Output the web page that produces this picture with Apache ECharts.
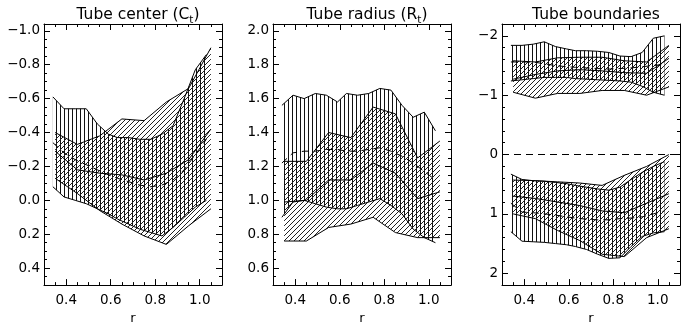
<!DOCTYPE html>
<html><head><meta charset="utf-8">
<script src="https://cdn.jsdelivr.net/npm/echarts@6/dist/echarts.min.js"></script>
<style>html,body{margin:0;padding:0;background:#fff}#c{width:681px;height:330px}</style>
</head><body><div id="c"></div>
<script>
// ---------- data ----------
const rA = [0.34,0.39,0.44,0.49,0.54,0.59,0.63,0.68,0.73,0.78,0.83,0.88,0.93,0.98,1.03];
const rB = [0.35,0.45,0.55,0.65,0.75,0.85,0.95,1.05];

// Panel 1 : Tube center
const p1A_top = [-0.61,-0.54,-0.54,-0.54,-0.45,-0.39,-0.37,-0.37,-0.36,-0.36,-0.39,-0.44,-0.60,-0.77,-0.86];
const p1A_bot = [-0.08,-0.02,0.00,0.02,0.05,0.08,0.11,0.14,0.17,0.19,0.21,0.16,0.10,0.04,0.00];
const p1A_med = [-0.34,-0.28,-0.24,-0.21,-0.18,-0.15,-0.13,-0.11,-0.09,-0.08,-0.09,-0.12,-0.18,-0.27,-0.36];
const p1B_top = [-0.40,-0.33,-0.38,-0.48,-0.47,-0.58,-0.66,-0.90];
const p1B_bot = [-0.13,-0.04,0.06,0.14,0.21,0.26,0.15,0.05];
const p1B_med = [-0.29,-0.18,-0.16,-0.15,-0.12,-0.16,-0.24,-0.42];

// Panel 2 : Tube radius
const p2A_top = [1.56,1.62,1.60,1.63,1.62,1.58,1.63,1.62,1.63,1.66,1.65,1.56,1.49,1.52,1.41];
const p2A_bot = [0.90,0.99,1.00,0.98,0.96,0.95,0.95,0.97,0.99,1.01,0.97,0.92,0.83,0.78,0.75];
const p2A_med = [1.22,1.28,1.29,1.29,1.30,1.30,1.29,1.29,1.30,1.31,1.29,1.26,1.22,1.17,1.12];
const p2B_top = [1.23,1.23,1.40,1.37,1.55,1.51,1.25,1.35];
const p2B_bot = [0.76,0.76,0.84,0.86,0.90,0.81,0.78,0.78];
const p2B_med = [0.99,1.00,1.12,1.12,1.22,1.16,1.01,1.05];

// Panel 3 : Tube boundaries (outer group)
const p3uA_top = [-1.84,-1.84,-1.86,-1.90,-1.82,-1.78,-1.75,-1.75,-1.74,-1.72,-1.66,-1.65,-1.72,-1.96,-2.00];
const p3uA_bot = [-1.24,-1.26,-1.28,-1.30,-1.30,-1.30,-1.28,-1.27,-1.26,-1.25,-1.24,-1.22,-1.15,-1.05,-1.00];
const p3uA_med = [-1.56,-1.56,-1.56,-1.53,-1.50,-1.48,-1.47,-1.46,-1.45,-1.44,-1.45,-1.46,-1.48,-1.50,-1.52];
const p3uB_top = [-1.58,-1.56,-1.63,-1.64,-1.64,-1.58,-1.56,-1.84];
const p3uB_bot = [-1.05,-0.95,-1.03,-1.03,-1.08,-1.08,-1.00,-1.14];
const p3uB_med = [-1.27,-1.35,-1.41,-1.43,-1.41,-1.38,-1.37,-1.62];
// Panel 3 : Tube boundaries (inner group)
const p3lA_top = [0.33,0.42,0.44,0.45,0.47,0.49,0.52,0.55,0.58,0.60,0.55,0.42,0.30,0.20,0.12];
const p3lA_bot = [1.30,1.46,1.47,1.48,1.50,1.52,1.55,1.60,1.68,1.75,1.74,1.55,1.38,1.32,1.30];
const p3lA_med = [0.82,0.97,0.98,1.00,1.02,1.05,1.07,1.09,1.10,1.10,1.08,1.07,1.05,1.00,0.95];
const p3lB_top = [0.43,0.44,0.46,0.48,0.52,0.35,0.20,0.00];
const p3lB_bot = [1.00,1.08,1.28,1.45,1.68,1.72,1.40,1.25];
const p3lB_med = [0.70,0.74,0.80,0.86,0.95,0.98,0.82,0.66];

// ticks
const xTicks = [0.4,0.6,0.8,1.0];
const y1Ticks = [-1.0,-0.8,-0.6,-0.4,-0.2,0.0,0.2,0.4];
const y2Ticks = [0.6,0.8,1.0,1.2,1.4,1.6,1.8,2.0];
const y3Ticks = [-2,-1,0,1,2];
const titles = ['Tube center (C{s|t})','Tube radius (R{s|t})','Tube boundaries'];

// ---------- layout / style ----------
const FONT = 'DejaVu Sans';
const LEFTS = [44,273,502], TOP = 24, W = 178, H = 268;
const XMIN = 0.3, XMAX = 1.1;
const yCfg = [
  {min:-1.04, max:0.5, inverse:true, major:y1Ticks, step:0.05, per:4, dec:1},
  {min:0.5, max:2.04, inverse:false, major:y2Ticks, step:0.05, per:4, dec:1},
  {min:-2.2, max:2.2, inverse:true, major:y3Ticks, step:0.2, per:5, dec:0}
];
function minorList(min,max,step,per){
  const out=[]; const k0=Math.ceil(min/step-1e-9), k1=Math.floor(max/step+1e-9);
  for(let k=k0;k<=k1;k++){ if(k%per===0) continue; out.push(+(k*step).toFixed(4)); }
  return out;
}
const xMinor = minorList(XMIN,XMAX,0.05,4);
function fmt(v,d){ return (v<0?'\u2212':'')+Math.abs(v).toFixed(d); }

function patternCanvas(kind){
  const c=document.createElement('canvas');
  if(kind==='v'){ c.width=4;c.height=4; const g=c.getContext('2d'); g.fillStyle='#111'; g.fillRect(0,0,1,4); }
  else { c.width=5;c.height=5; const g=c.getContext('2d'); g.fillStyle='#222'; for(let i=0;i<5;i++) g.fillRect(i,4-i,1,1); }
  return c;
}
const PV = {image: patternCanvas('v'), repeat:'repeat'};
const PD = {image: patternCanvas('d'), repeat:'repeat'};

const grid=[], xAxis=[], yAxis=[], series=[], title=[];
for(let g=0; g<3; g++){
  grid.push({left:LEFTS[g], top:TOP, width:W, height:H, containLabel:false});
  const yc=yCfg[g];
  const yMinor=minorList(yc.min,yc.max,yc.step,yc.per);
  const tickStyle={color:'#000',width:1};
  [['bottom',false],['bottom',true],['top',false],['top',true]].forEach(([pos,minor],k)=>{
    const main = (k===0);
    xAxis.push({gridIndex:g, type:'value', position:pos, min:XMIN, max:XMAX,
      axisLine:{show:!minor, onZero:false, lineStyle:{color:'#000',width:1}},
      axisTick:{show:true, inside:true, length:minor?3:6, customValues:minor?xMinor:xTicks, lineStyle:tickStyle},
      axisLabel:{show:main, customValues:xTicks, formatter:v=>fmt(v,1), color:'#000', fontFamily:FONT, fontSize:13.5, margin:8},
      splitLine:{show:false}, minorTick:{show:false},
      name: main?'r':'', nameLocation:'middle', nameGap:23,
      nameTextStyle:{color:'#000', fontFamily:FONT, fontSize:13}
    });
  });
  [['left',false],['left',true],['right',false],['right',true]].forEach(([pos,minor],k)=>{
    const main=(k===0);
    yAxis.push({gridIndex:g, type:'value', position:pos, min:yc.min, max:yc.max, inverse:yc.inverse,
      axisLine:{show:!minor, onZero:false, lineStyle:{color:'#000',width:1}},
      axisTick:{show:true, inside:true, length:minor?3:6, customValues:minor?yMinor:yc.major, lineStyle:tickStyle},
      axisLabel:{show:main, customValues:yc.major, formatter:v=>fmt(v,yc.dec), color:'#000', fontFamily:FONT, fontSize:13.5, margin:4},
      splitLine:{show:false}, minorTick:{show:false}
    });
  });
  title.push({text:titles[g], left:LEFTS[g]+W/2, top:-1, textAlign:'center',
    textStyle:{color:'#000', fontFamily:FONT, fontSize:15.5, fontWeight:'normal', lineHeight:22,
      rich:{s:{fontSize:10.5, fontFamily:FONT, color:'#000', verticalAlign:'bottom', lineHeight:10}}}});
}

function band(g, r, top, bot, pat){
  return {type:'custom', xAxisIndex:g*4, yAxisIndex:g*4, coordinateSystem:'cartesian2d',
    data:r.map((x,i)=>[x,top[i],bot[i]]), encode:{x:0,y:[1,2]}, clip:true, silent:true, z:1,
    renderItem:(params,api)=>{
      if(params.dataIndex!==0) return null;
      const pts=[];
      for(let i=0;i<r.length;i++) pts.push(api.coord([r[i],top[i]]));
      for(let i=r.length-1;i>=0;i--) pts.push(api.coord([r[i],bot[i]]));
      return {type:'polygon', shape:{points:pts}, style:{fill:pat, stroke:null}};
    }};
}
function line(g, r, vals, dashed){
  return {type:'line', xAxisIndex:g*4, yAxisIndex:g*4, data:r.map((x,i)=>[x,vals[i]]),
    showSymbol:false, symbol:'none', silent:true, z:3, clip:true,
    lineStyle:{color:'#000', width:1, type: dashed?[7,5]:'solid'}};
}
function group(g, A_top, A_bot, A_med, B_top, B_bot, B_med){
  series.push(band(g, rA, A_top, A_bot, PV));
  series.push(band(g, rB, B_top, B_bot, PD));
  series.push(line(g, rA, A_top, false), line(g, rA, A_bot, false), line(g, rA, A_med, true));
  series.push(line(g, rB, B_top, false), line(g, rB, B_bot, false), line(g, rB, B_med, false));
}
group(0, p1A_top,p1A_bot,p1A_med, p1B_top,p1B_bot,p1B_med);
group(1, p2A_top,p2A_bot,p2A_med, p2B_top,p2B_bot,p2B_med);
group(2, p3uA_top,p3uA_bot,p3uA_med, p3uB_top,p3uB_bot,p3uB_med);
group(2, p3lA_top,p3lA_bot,p3lA_med, p3lB_top,p3lB_bot,p3lB_med);
series.push({type:'line', xAxisIndex:8, yAxisIndex:8, data:[], silent:true,
  markLine:{silent:true, symbol:['none','none'], label:{show:false},
    lineStyle:{color:'#000', width:1, type:[7,5]}, data:[{yAxis:0}]}});

const chart = echarts.init(document.getElementById('c'), null, {renderer:'canvas'});
chart.setOption({animation:false, backgroundColor:'#fff', title, grid, xAxis, yAxis, series});
</script>
</body></html>
